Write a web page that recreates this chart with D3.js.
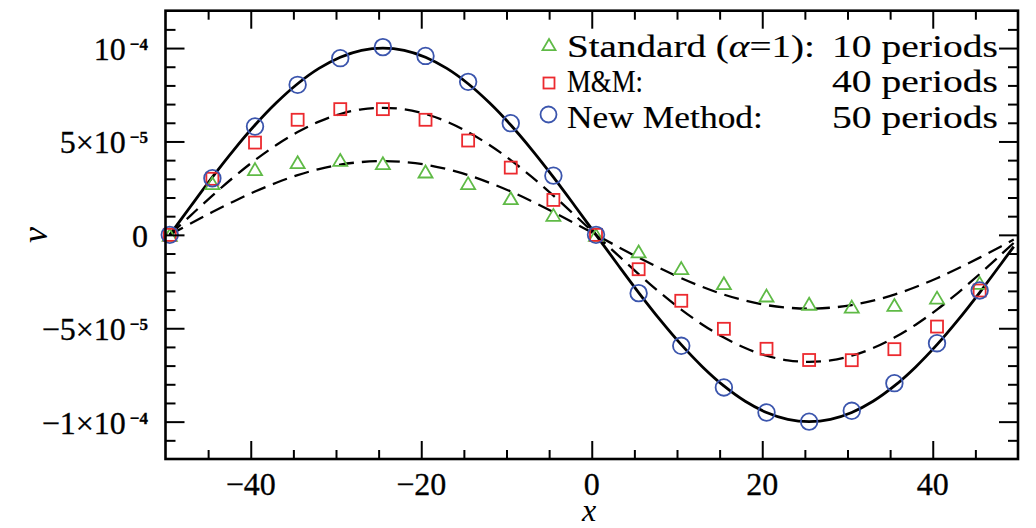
<!DOCTYPE html>
<html><head><meta charset="utf-8">
<script src="https://cdn.jsdelivr.net/npm/d3@7"></script>
<style>
html,body{margin:0;padding:0;background:#fff;}
svg{display:block;}
</style></head>
<body>
<svg id="chart" width="1036" height="528"></svg>
<script>
// ---- data (v in units of 1e-5) ----
const curveX = [-49.5,-47,-44.5,-42,-39.5,-37,-34.5,-32,-29.5,-27,-24.5,-22,-19.5,-17,-14.5,-12,-9.5,-7,-4.5,-2,0.5,3,5.5,8,10.5,13,15.5,18,20.5,23,25.5,28,30.5,33,35.5,38,40.5,43,45.5,48,49.5];
const solidCurve = [0,1.56,3.09,4.54,5.88,7.07,8.09,8.91,9.51,9.88,10,9.88,9.51,8.91,8.09,7.07,5.88,4.54,3.09,1.56,0,-1.56,-3.09,-4.54,-5.88,-7.07,-8.09,-8.91,-9.51,-9.88,-10,-9.88,-9.51,-8.91,-8.09,-7.07,-5.88,-4.54,-3.09,-1.56,-0.63];
const mmCurve = [0,1.06,2.10,3.09,4.00,4.81,5.50,6.06,6.47,6.72,6.80,6.72,6.47,6.06,5.50,4.81,4.00,3.09,2.10,1.06,0,-1.06,-2.10,-3.09,-4.00,-4.81,-5.50,-6.06,-6.47,-6.72,-6.80,-6.72,-6.47,-6.06,-5.50,-4.81,-4.00,-3.09,-2.10,-1.06,-0.43];
const stdCurve = [0,0.62,1.22,1.79,2.32,2.79,3.20,3.52,3.76,3.90,3.95,3.90,3.76,3.52,3.20,2.79,2.32,1.79,1.22,0.62,0,-0.62,-1.22,-1.79,-2.32,-2.79,-3.20,-3.52,-3.76,-3.90,-3.95,-3.90,-3.76,-3.52,-3.20,-2.79,-2.32,-1.79,-1.22,-0.62,-0.25];

const pointX = [-49.5,-44.5,-39.5,-34.5,-29.5,-24.5,-19.5,-14.5,-9.5,-4.5,0.5,5.5,10.5,15.5,20.5,25.5,30.5,35.5,40.5,45.5];
const newMethodV = [0,3.03,5.80,8.03,9.46,10.05,9.58,8.19,5.98,3.17,0,-3.12,-5.94,-8.17,-9.51,-10.0,-9.42,-7.94,-5.80,-2.98];
const mmV = [0,3.0,4.94,6.16,6.73,6.73,6.16,5.05,3.60,1.87,0,-1.84,-3.53,-5.03,-6.10,-6.70,-6.71,-6.12,-4.91,-2.98];
const standardV = [0,2.77,3.52,3.89,4.01,3.84,3.39,2.77,1.96,1.07,0,-0.89,-1.78,-2.59,-3.25,-3.69,-3.84,-3.75,-3.36,-2.57];

const xMajorTicks = [-40,-20,0,20,40];
const xTickLabels = ["\u221240","\u221220","0","20","40"];
const xMinorTicks = [-45,-35,-30,-25,-15,-10,-5,5,10,15,25,30,35,45];
const yMajorTicks = [1e-4,5e-5,0,-5e-5,-1e-4];
const yTickMain = ["10","5\u00d710","0","\u22125\u00d710","\u22121\u00d710"];
const yTickExp = ["\u22124","\u22125","","\u22125","\u22124"];
const yMinorTicks = [1.1e-4,9e-5,8e-5,7e-5,6e-5,4e-5,3e-5,2e-5,1e-5,-1e-5,-2e-5,-3e-5,-4e-5,-6e-5,-7e-5,-8e-5,-9e-5,-1.1e-4];

const legendNames = ["Standard", "M&M:", "New Method:"];
const legendCounts = ["10 periods","40 periods","50 periods"];

// ---- layout ----
const L = 165.5, R = 1018, T = 10.7, B = 459;
const x = d3.scaleLinear().domain([-50,50]).range([L,R]);
const y = d3.scaleLinear().domain([-1.2e-4,1.2e-4]).range([B,T]);
const svg = d3.select("#chart");
const serif = "'Liberation Serif', 'Times New Roman', serif";
const green = "#5fba46", red = "#ec2a2f", blue = "#3b55ad";

// curves
const line = d3.line().x((d,i)=>x(curveX[i])).y(d=>y(d*1e-5)).curve(d3.curveCatmullRom);
svg.append("path").attr("d", line(stdCurve)).attr("fill","none").attr("stroke","#000").attr("stroke-width",2.3).attr("stroke-dasharray","15,8");
svg.append("path").attr("d", line(mmCurve)).attr("fill","none").attr("stroke","#000").attr("stroke-width",2.3).attr("stroke-dasharray","15,8");
svg.append("path").attr("d", line(solidCurve)).attr("fill","none").attr("stroke","#000").attr("stroke-width",2.8);

// markers
function triPath(cx, cy, s){ const h = s*0.85; return `M${cx},${cy-h/2}L${cx+s/2},${cy+h/2}L${cx-s/2},${cy+h/2}Z`; }
svg.append("g").selectAll("path").data(standardV).join("path")
  .attr("d",(d,i)=>triPath(x(pointX[i]), y(d*1e-5), 14))
  .attr("fill","none").attr("stroke",green).attr("stroke-width",1.8);
svg.append("g").selectAll("rect").data(mmV).join("rect")
  .attr("x",(d,i)=>x(pointX[i])-6).attr("y",d=>y(d*1e-5)-6).attr("width",12).attr("height",12)
  .attr("fill","none").attr("stroke",red).attr("stroke-width",1.8);
svg.append("g").selectAll("circle").data(newMethodV).join("circle")
  .attr("cx",(d,i)=>x(pointX[i])).attr("cy",d=>y(d*1e-5)).attr("r",8.3)
  .attr("fill","none").attr("stroke",blue).attr("stroke-width",1.8);

// axes ticks
function tickAxis(axisFn, scale, vals, size, transform){
  const g = svg.append("g").attr("transform", transform)
    .call(axisFn(scale).tickValues(vals).tickSize(size).tickFormat(""));
  g.select(".domain").remove();
  g.selectAll(".tick line").attr("stroke","#000").attr("stroke-width",2);
}
tickAxis(d3.axisBottom, x, xMajorTicks, -18, `translate(0,${B})`);
tickAxis(d3.axisBottom, x, xMinorTicks, -9, `translate(0,${B})`);
tickAxis(d3.axisTop, x, xMajorTicks, -18, `translate(0,${T})`);
tickAxis(d3.axisTop, x, xMinorTicks, -9, `translate(0,${T})`);
tickAxis(d3.axisLeft, y, yMajorTicks, -19, `translate(${L},0)`);
tickAxis(d3.axisLeft, y, yMinorTicks, -10, `translate(${L},0)`);
tickAxis(d3.axisRight, y, yMajorTicks, -19, `translate(${R},0)`);
tickAxis(d3.axisRight, y, yMinorTicks, -10, `translate(${R},0)`);

// frame
svg.append("rect").attr("x",L).attr("y",T).attr("width",R-L).attr("height",B-T)
  .attr("fill","none").attr("stroke","#000").attr("stroke-width",2.6);

// x tick labels
svg.append("g").selectAll("text").data(xMajorTicks).join("text")
  .attr("x",d=>x(d)).attr("y",495).attr("text-anchor","middle")
  .attr("font-family",serif).attr("font-size",32).attr("stroke","#000").attr("stroke-width",0.3)
  .text((d,i)=>xTickLabels[i]);

// y tick labels
const yl = svg.append("g").selectAll("text").data(yMajorTicks).join("text")
  .attr("x",148).attr("y",d=>y(d)+12).attr("text-anchor","end")
  .attr("font-family",serif).attr("font-size",32).attr("stroke","#000").attr("stroke-width",0.3);
yl.append("tspan").text((d,i)=>yTickMain[i]);
yl.filter((d,i)=>yTickExp[i]!=="").append("tspan").attr("dx",4).attr("dy",-10)
  .attr("font-size",17).attr("font-weight","bold").text((d,i)=>yTickExp[yMajorTicks.indexOf(d)]);

// axis titles
svg.append("text").attr("x",589).attr("y",521).attr("text-anchor","middle")
  .attr("font-family",serif).attr("font-style","italic").attr("font-size",32).text("x");
svg.append("text").attr("transform","translate(47,235) rotate(-90)").attr("text-anchor","middle")
  .attr("font-family",serif).attr("font-style","italic").attr("font-size",36).text("v");

// legend
const legBase = [56.5, 92, 127.5];
const legLabelW = [248, 76, 196];
const legCountW = 166;
function fitText(sel, x0, yb, w){
  const nat = sel.node().getComputedTextLength();
  sel.attr("transform",`translate(${x0},${yb}) scale(${w/nat},1)`);
}
legendNames.forEach((name,i)=>{
  const t = svg.append("text").attr("font-family",serif).attr("font-size",31).attr("stroke","#000").attr("stroke-width",0.15);
  t.append("tspan").text(name);
  if(i===0){
    t.append("tspan").text(" (");
    t.append("tspan").attr("font-style","italic").text("\u03b1");
    t.append("tspan").text("=1):");
  }
  fitText(t, 567, legBase[i], legLabelW[i]);
  const c = svg.append("text").attr("font-family",serif).attr("font-size",31).attr("stroke","#000").attr("stroke-width",0.15).text(legendCounts[i]);
  fitText(c, 832, legBase[i], legCountW);
});
svg.append("path").attr("d",triPath(549,44.5,13)).attr("fill","none").attr("stroke",green).attr("stroke-width",1.8);
svg.append("rect").attr("x",543.5).attr("y",77.5).attr("width",11).attr("height",11).attr("fill","none").attr("stroke",red).attr("stroke-width",1.8);
svg.append("circle").attr("cx",548.5).attr("cy",114.5).attr("r",8).attr("fill","none").attr("stroke",blue).attr("stroke-width",1.8);
</script>
</body></html>
